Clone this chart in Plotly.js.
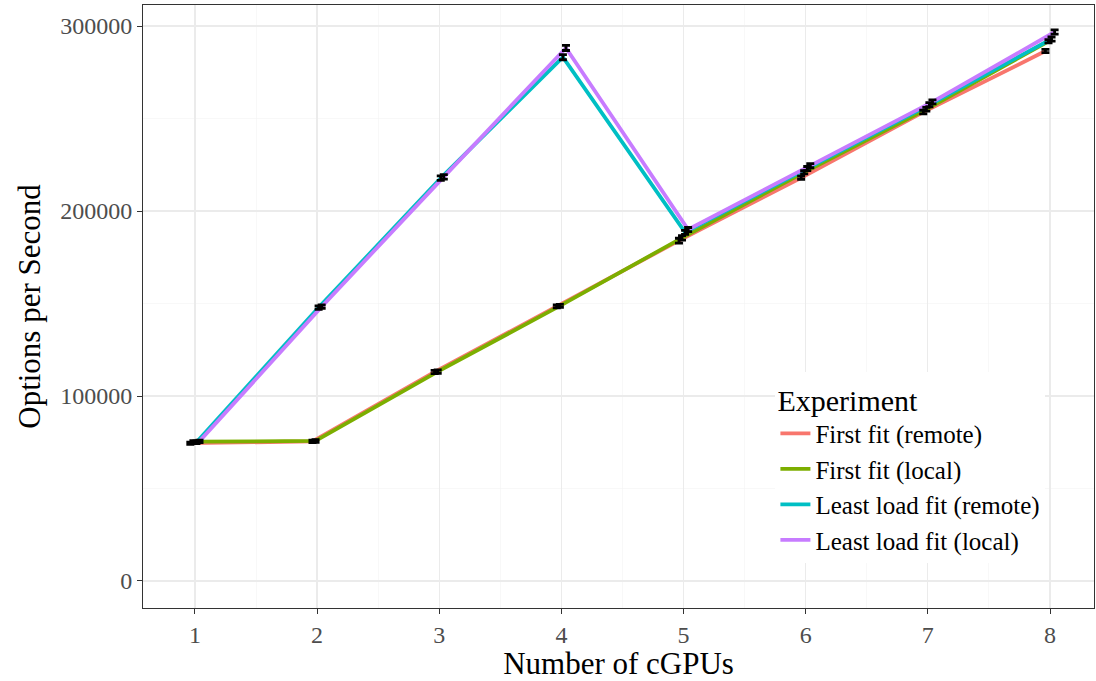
<!DOCTYPE html>
<html>
<head>
<meta charset="utf-8">
<script src="https://cdn.plot.ly/plotly-3.0.1.min.js"></script>
<style>
  html, body { margin: 0; padding: 0; background: #ffffff; }
  #chart { width: 1096px; height: 681px; }
</style>
</head>
<body>
<div id="chart"></div>
<script>
// Number of cGPUs on the x axis
const cgpus = [1, 2, 3, 4, 5, 6, 7, 8];

// Throughput (options per second) for each placement experiment
const firstFitRemote = [74500, 75500, 113000, 148500, 184000, 218000, 253500, 286500];
const firstFitLocal = [75300, 75700, 113200, 148700, 185500, 221000, 255000, 291800];
const leastLoadRemote = [75000, 147800, 217800, 283200, 188500, 223000, 257500, 293000];
const leastLoadLocal = [75500, 148300, 218500, 288200, 190000, 224500, 259000, 296800];

// Standard errors shown as error bars
const firstFitRemoteErr = [600, 700, 900, 800, 1300, 900, 1000, 900];
const firstFitLocalErr = [600, 700, 900, 800, 1200, 900, 1000, 900];
const leastLoadRemoteErr = [700, 900, 1200, 1400, 1100, 1100, 1100, 1100];
const leastLoadLocalErr = [700, 900, 1200, 1400, 1100, 1100, 1100, 1100];

const seriesNames = ['First fit (remote)', 'First fit (local)', 'Least load fit (remote)', 'Least load fit (local)'];

const series = [
  { name: seriesNames[0], y: firstFitRemote, err: firstFitRemoteErr, color: '#F8766D', dodge: -0.0375 },
  { name: seriesNames[1], y: firstFitLocal, err: firstFitLocalErr, color: '#7CAE00', dodge: -0.0125 },
  { name: seriesNames[2], y: leastLoadRemote, err: leastLoadRemoteErr, color: '#00BFC4', dodge: 0.0125 },
  { name: seriesNames[3], y: leastLoadLocal, err: leastLoadLocalErr, color: '#C77CFF', dodge: 0.0375 }
];

const traces = [];
// Lines first
series.forEach(s => {
  traces.push({
    type: 'scatter',
    mode: 'lines',
    name: s.name,
    x: cgpus.map(v => v + s.dodge),
    y: s.y,
    line: { color: s.color, width: 3.8 },
    hoverinfo: 'x+y+name'
  });
});
// Error bars drawn on top of every line
series.forEach(s => {
  traces.push({
    type: 'scatter',
    mode: 'markers',
    showlegend: false,
    x: cgpus.map(v => v + s.dodge),
    y: s.y,
    marker: { size: 0.1, color: 'rgba(0,0,0,0)' },
    error_y: { type: 'data', array: s.err, visible: true, color: '#000000', thickness: 2.8, width: 4 },
    hoverinfo: 'skip'
  });
});

const serif = '"Liberation Serif", "DejaVu Serif", serif';
const axisFont = { family: serif, size: 24, color: '#4d4d4d' };
const titleFont = { family: serif, size: 31, color: '#000000' };

const layout = {
  width: 1096,
  height: 681,
  margin: { l: 143, r: 2, t: 5, b: 73 },
  paper_bgcolor: '#ffffff',
  plot_bgcolor: '#ffffff',
  showlegend: true,
  xaxis: {
    range: [0.575, 8.36],
    tickvals: cgpus,
    ticktext: cgpus.map(String),
    tickfont: axisFont,
    ticks: 'outside',
    ticklen: 5,
    tickwidth: 1,
    tickcolor: '#333333',
    showgrid: true,
    gridcolor: '#ebebeb',
    gridwidth: 1.2,
    minor: { dtick: 0.5, tick0: 0.5, showgrid: true, gridcolor: '#f3f3f3', gridwidth: 0.6, ticks: '' },
    zeroline: false,
    showline: true,
    linecolor: '#333333',
    linewidth: 1,
    mirror: true,
    title: { text: 'Number of cGPUs', font: titleFont, standoff: 6 }
  },
  yaxis: {
    range: [-14600, 311400],
    tickvals: [0, 100000, 200000, 300000],
    ticktext: ['0', '100000', '200000', '300000'],
    tickfont: axisFont,
    ticks: 'outside',
    ticklen: 5,
    tickwidth: 1,
    tickcolor: '#333333',
    showgrid: true,
    gridcolor: '#ebebeb',
    gridwidth: 1.2,
    minor: { dtick: 50000, tick0: 50000, showgrid: true, gridcolor: '#f3f3f3', gridwidth: 0.6, ticks: '' },
    zeroline: false,
    showline: true,
    linecolor: '#333333',
    linewidth: 1,
    mirror: true,
    title: { text: 'Options per Second', font: titleFont, standoff: 10 }
  },
  legend: {
    x: 0.665,
    y: 0.392,
    xanchor: 'left',
    yanchor: 'top',
    bgcolor: '#ffffff',
    borderwidth: 0,
    font: { family: serif, size: 25, color: '#000000' },
    title: { text: 'Experiment', font: { family: serif, size: 30, color: '#000000' } },
    itemwidth: 30,
    tracegroupgap: 0
  }
};

Plotly.newPlot('chart', traces, layout, { displayModeBar: false, staticPlot: true });
</script>
</body>
</html>
